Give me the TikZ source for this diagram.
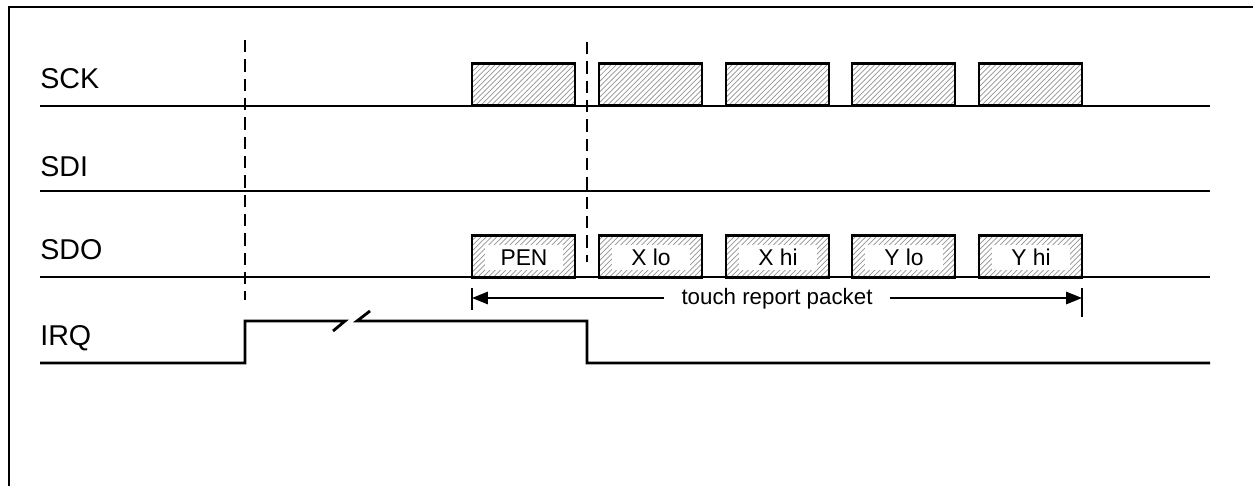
\documentclass[tikz,border=0pt]{standalone}
\usepackage{fontspec}
\setmainfont{Liberation Sans}
\usetikzlibrary{patterns,arrows.meta}

\begin{document}
\begin{tikzpicture}[x=0.02cm, y=-0.02cm,
    sig/.style={line width=1.6pt},
    guide/.style={line width=1pt, dash pattern=on 7pt off 4pt},
    sigtext/.style={anchor=base west, inner sep=0pt, font=\fontsize{16.3}{19}\selectfont},
    pulsebox/.style={draw, line width=1.6pt, pattern=north east lines, pattern color=gray!85,
      minimum width=2.06cm, minimum height=0.85cm, inner sep=0pt},
    fieldbox/.style={fill=white, minimum width=1.56cm, minimum height=0.5cm, inner sep=0pt,
      font=\fontsize{13}{15}\selectfont}]
        \useasboundingbox (0,0) rectangle (1253,486);
        % Frame
        \draw[line width=1.7pt] (9,486) -- (9,7) -- (1253,7);

        % Dashed markers
        \draw[guide] (245,40) -- (245,300);
        \draw[guide] (587,42) -- (587,262);

        % Signal names
        \node[sigtext] (sck) at (40,89) {SCK};
        \node[sigtext] (sdi) at (40,176) {SDI};
        \node[sigtext] (sdo) at (40,259) {SDO};
        \node[sigtext] (irq) at (40,345) {IRQ};

        % Clock bursts
        \foreach \x [count=\i] in {472,599,726,852,979} {
          \node[pulsebox] (sck\i) at (\x+51.5,84.5) {};
        }
        \draw[sig] (40,106) -- (1210,106);

        % SDI
        \draw[sig] (40,191) -- (1210,191);

        % Data bytes
        \foreach \x/\t [count=\i] in {472/PEN,599/X lo,726/X hi,852/Y lo,979/Y hi} {
          \node[pulsebox] (sdo\i) at (\x+51.5,256.5) {};
          \node[fieldbox] (byte\i) at (\x+52,257.5) {\t};
        }
        \draw[sig] (40,277) -- (1210,277);

        % Packet span
        \coordinate (pktl) at (472,298);
        \coordinate (pktr) at (1082,298);
        \node[inner xsep=10pt, inner ysep=1pt, font=\fontsize{12.7}{15}\selectfont] (pkt) at (777,299) {touch report packet};
        \draw[line width=1pt, -{Triangle[length=9pt,width=7pt]}] (pkt.west |- pktl) -- (pktl);
        \draw[line width=1pt, -{Triangle[length=9pt,width=7pt]}] (pkt.east |- pktr) -- (pktr);
        \draw[line width=1pt] (pktl) ++(0,-10) -- ++(0,22);
        \draw[line width=1pt] (pktr) ++(0,-10) -- ++(0,29);

        % IRQ
        \draw[sig] (40,363) -| (245,321) -- (345,321) -- (333,331);
        \draw[sig] (370,311) -- (357,321) -| (587,363) -- (1210,363);
\end{tikzpicture}
\end{document}
